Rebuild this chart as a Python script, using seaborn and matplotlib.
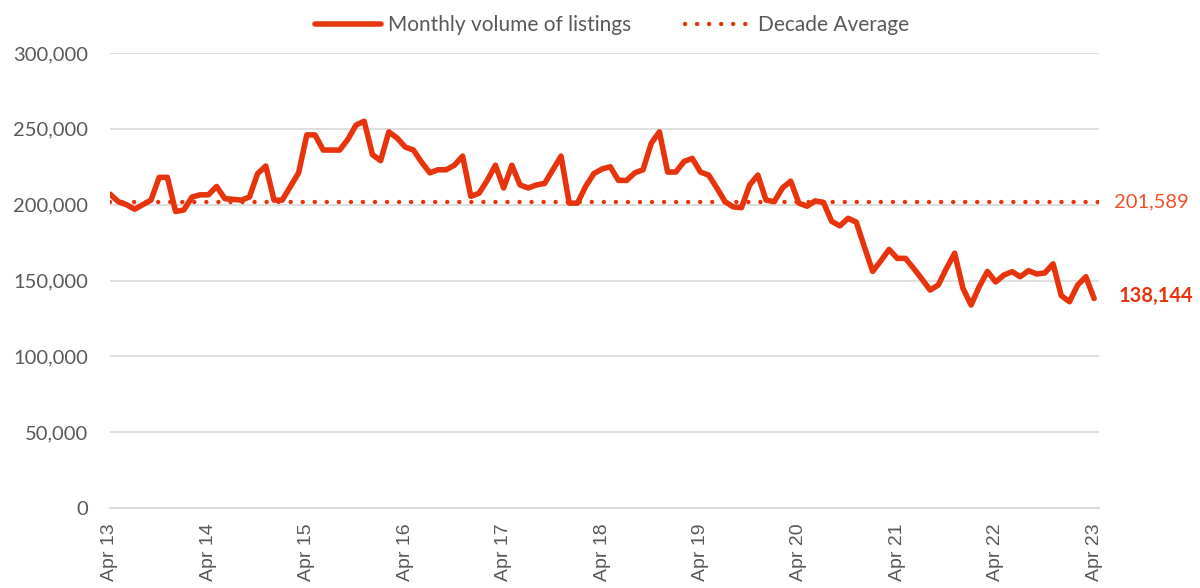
import numpy as np
import pandas as pd
import matplotlib.pyplot as plt
import seaborn as sns

# Monthly volume of listings, Apr 2013 - Apr 2023
listings = [
    207000, 202000, 200000, 197000, 200000, 203000, 218000, 218000, 195500, 196500,
    205000, 206500, 206500, 212000, 204000, 203500, 203000, 205000, 220500, 225500,
    203000, 203000, 212000, 221000, 246000, 246000, 236000, 236000, 236000, 243000,
    252500, 255000, 233000, 229000, 248000, 244000, 238000, 236000, 228000, 221000,
    223000, 223000, 226000, 232000, 205500, 207500, 216000, 226000, 211000, 226000,
    213000, 211000, 213000, 214000, 223000, 232000, 201000, 201000, 212000, 220500,
    223500, 225000, 216000, 216000, 221000, 223000, 240500, 248000, 221500, 221500,
    228500, 230500, 221500, 219500, 211000, 202000, 198500, 198000, 213000, 219500,
    203000, 202000, 211000, 215500, 201000, 199000, 202500, 201500, 189000, 186000,
    191000, 188500, 172000, 156000, 163000, 170500, 164600, 164600, 158000, 151000,
    143700, 147000, 158000, 168000, 145000, 133800, 146000, 156000, 149000, 153600,
    155800, 152500, 156500, 154300, 155000, 161000, 140000, 136000, 147000, 152500,
    138144,
]
decade_avg = 201589
year_labels = ["Apr 13", "Apr 14", "Apr 15", "Apr 16", "Apr 17", "Apr 18",
               "Apr 19", "Apr 20", "Apr 21", "Apr 22", "Apr 23"]

df = pd.DataFrame({"month": np.arange(len(listings)), "listings": listings})

red = "#E8340C"
grid_col = "#D9D9D9"
txt_col = "#595959"

sns.set_style("white")
plt.rcParams["font.family"] = ["Lato", "DejaVu Sans"]

fig = plt.figure(figsize=(12, 5.88), dpi=100)
ax = fig.add_axes([110 / 1200, 1 - 508 / 588, (1099 - 110) / 1200, (508 - 53) / 588])

sns.lineplot(data=df, x="month", y="listings", color=red, linewidth=4,
             ax=ax, label="Monthly volume of listings", solid_joinstyle="round")
ax.axhline(decade_avg, color=red, linewidth=3.2, linestyle=(0, (0.01, 2.7)),
           dash_capstyle="round", label="Decade Average", zorder=1)

ax.set_xlim(0, 120.6)
ax.set_ylim(0, 300000)
ax.set_yticks(np.arange(0, 300001, 50000))
ax.set_yticklabels([f"{v:,}" for v in range(0, 300001, 50000)], fontsize=14.5, color=txt_col)
ax.set_xticks(np.arange(0, len(listings), 12))
ax.set_xticklabels(year_labels, rotation=90, fontsize=14, color=txt_col,
                   family=["Liberation Sans", "DejaVu Sans"])
ax.tick_params(axis="y", length=0, pad=16)
ax.tick_params(axis="x", length=5, color=grid_col, width=1.2, pad=6, direction="out")
ax.yaxis.grid(True, color=grid_col, linewidth=1.2)
ax.set_axisbelow(True)
for s in ["left", "right", "top"]:
    ax.spines[s].set_visible(False)
ax.spines["bottom"].set_color(grid_col)
ax.spines["bottom"].set_linewidth(1.2)
ax.set_xlabel("")
ax.set_ylabel("")

# end labels
ax.annotate(f"{decade_avg:,}", xy=(1, decade_avg), xycoords=("axes fraction", "data"),
            xytext=(11, 0), textcoords="offset points", va="center", ha="left",
            fontsize=14.5, color="#F0502A")
ax.annotate(f"{listings[-1]:,}", xy=(1, listings[-1] + 1500), xycoords=("axes fraction", "data"),
            xytext=(14, 0), textcoords="offset points", va="center", ha="left",
            fontsize=14.5, fontweight="bold", color=red)

ax.legend(loc="center", bbox_to_anchor=(612 / 1200, 1 - 25 / 588),
          bbox_transform=fig.transFigure, ncol=2, frameon=False, fontsize=15,
          handlelength=3.2, columnspacing=2.6, handletextpad=0.3, labelcolor=txt_col)

fig.savefig("out.png", dpi=100)
